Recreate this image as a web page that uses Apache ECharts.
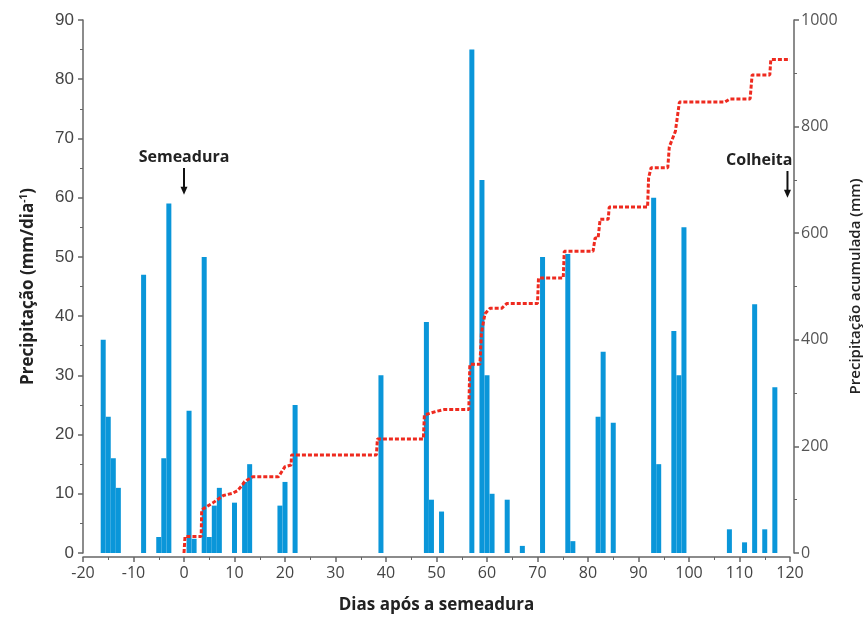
<!DOCTYPE html>
<html>
<head>
<meta charset="utf-8">
<script src="https://cdn.jsdelivr.net/npm/echarts@6/dist/echarts.min.js"></script>
<style>
html, body { margin: 0; padding: 0; background: #fff; }
#chart { width: 866px; height: 620px; }
</style>
</head>
<body>
<div id="chart"></div>
<script>
// daily rain (mm/dia)
var barDays = [-16, -15, -14, -13, -8, -5, -4, -3, 1, 2, 4, 5, 6, 7, 10, 12, 13, 19, 20, 22, 39, 48, 49, 51,
    57, 59, 60, 61, 64, 67, 71, 76, 77, 82, 83, 85, 93, 94, 97, 98, 99, 108, 111, 113, 115, 117];
var barValues = [36, 23, 16, 11, 47, 2.7, 16, 59, 24, 2.4, 50, 2.7, 8, 11, 8.5, 12, 15, 8, 12, 25, 30, 39, 9, 7,
    85, 63, 30, 10, 9, 1.2, 50, 50.5, 2, 23, 34, 22, 60, 15, 37.5, 30, 55, 4, 1.8, 42, 4, 28];

// accumulated rain (mm)
var cumDays = [0, 0.2, 3.4, 3.5, 5.7, 7.8, 9.6, 10.6, 11.6, 12, 13.6, 18.7, 20, 21.2, 21.3, 38.1, 38.3,
    47.4, 47.6, 50.1, 51.5, 56.4, 56.6, 58.6, 58.9, 59.6, 60.6, 62.9, 63.9, 70, 70.2, 75.1, 75.3,
    81, 81.4, 82, 82.4, 84, 84.2, 91.8, 92, 92.5, 95.8, 96.1, 97.3, 98.1, 107.1, 108.1, 112.1, 112.5,
    116, 116.2, 120];
var cumValues = [0, 31, 31, 81, 94, 108, 112, 117, 128, 134, 143, 143, 162, 165, 184, 184, 214,
    214, 259, 266, 269, 269, 354, 354, 413, 449, 459, 459, 468, 468, 516, 516, 566,
    566, 591, 591, 626, 626, 649, 649, 704, 723, 723, 762, 791, 846, 846, 852, 852, 897,
    897, 926, 926];

var xTicks = [-20, 120];
var leftTicks = [0, 90];
var rightTicks = [0, 1000];

var annoTexts = ['Semeadura', 'Colheita'];
var annoDays = [0, 119.5];
var annoTop = [65, 64.5];
var annoBottom = [60.5, 60];

var chart = echarts.init(document.getElementById('chart'));
var font = 'Liberation Sans, Arial, sans-serif';
var font2 = 'Open Sans, sans-serif';

var barData = barDays.map(function (d, i) { return [d, barValues[i]]; });
var cumData = cumDays.map(function (d, i) { return [d, cumValues[i]]; });

var option = {
    animation: false,
    backgroundColor: '#fff',
    grid: { left: 83, right: 76, top: 20, bottom: 67, outerBoundsMode: 'none' },
    xAxis: {
        type: 'value',
        min: xTicks[0],
        max: xTicks[1],
        interval: 10,
        offset: 4,
        name: 'Dias após a semeadura',
        nameLocation: 'middle',
        nameGap: 40,
        nameTextStyle: { fontFamily: font2, fontSize: 17, fontWeight: 'bold', color: '#222' },
        axisLine: { onZero: false, lineStyle: { color: '#666', width: 1.5 } },
        axisTick: { length: 5, lineStyle: { color: '#666', width: 1.5 } },
        minorTick: { show: true, splitNumber: 2, length: 3, lineStyle: { color: '#666', width: 1 } },
        axisLabel: { fontFamily: font2, fontSize: 16, color: '#444', margin: 8 },
        splitLine: { show: false }
    },
    yAxis: [{
        type: 'value',
        min: leftTicks[0],
        max: leftTicks[1],
        interval: 10,
        name: 'Precipitação (mm/dia{sup|-1})',
        nameLocation: 'middle',
        nameRotate: 90,
        nameGap: 46,
        nameTextStyle: {
            fontFamily: font2, fontSize: 17, fontWeight: 'bold', color: '#222',
            rich: { sup: { fontFamily: font2, fontSize: 10, fontWeight: 'bold', color: '#222', verticalAlign: 'top', padding: [0, 0, 8, 0] } }
        },
        axisLine: { show: true, onZero: false, lineStyle: { color: '#666', width: 1.5 } },
        axisTick: { length: 5, lineStyle: { color: '#666', width: 1.5 } },
        minorTick: { show: true, splitNumber: 2, length: 3, lineStyle: { color: '#666', width: 1 } },
        axisLabel: { fontFamily: font, fontSize: 17, color: '#444', margin: 9 },
        splitLine: { show: false }
    }, {
        type: 'value',
        min: rightTicks[0],
        max: rightTicks[1],
        interval: 200,
        position: 'right',
        offset: 4,
        name: 'Precipitação acumulada (mm)',
        nameLocation: 'middle',
        nameRotate: 90,
        nameGap: 48,
        nameTextStyle: { fontFamily: font2, fontSize: 15, fontWeight: 600, color: '#222' },
        axisLine: { show: true, onZero: false, lineStyle: { color: '#666', width: 1.5 } },
        axisTick: { length: 5, lineStyle: { color: '#666', width: 1.5 } },
        minorTick: { show: true, splitNumber: 2, length: 3, lineStyle: { color: '#666', width: 1 } },
        axisLabel: {
            fontFamily: font2, fontSize: 16, color: '#555', margin: 7,
            formatter: function (v) { return String(v); }
        },
        splitLine: { show: false }
    }],
    series: [{
        type: 'bar',
        yAxisIndex: 0,
        barWidth: 5,
        itemStyle: { color: '#0a96d9' },
        data: barData
    }, {
        type: 'line',
        yAxisIndex: 1,
        symbol: 'none',
        lineStyle: { color: '#ee2a1f', width: 3, type: [4, 2] },
        data: cumData,
        z: 3
    }]
};
chart.setOption(option);

// arrows and labels for sowing / harvest
var graphics = [];
annoTexts.forEach(function (t, i) {
    var top = chart.convertToPixel({ xAxisIndex: 0, yAxisIndex: 0 }, [annoDays[i], annoTop[i]]);
    var bot = chart.convertToPixel({ xAxisIndex: 0, yAxisIndex: 0 }, [annoDays[i], annoBottom[i]]);
    graphics.push({
        type: 'line',
        shape: { x1: top[0], y1: top[1], x2: bot[0], y2: bot[1] - 6 },
        style: { stroke: '#111', lineWidth: 2 }
    });
    graphics.push({
        type: 'polygon',
        shape: { points: [[bot[0] - 3.5, bot[1] - 8], [bot[0] + 3.5, bot[1] - 8], [bot[0], bot[1]]] },
        style: { fill: '#111' }
    });
    graphics.push({
        type: 'text',
        x: i === 0 ? top[0] : top[0] + 5,
        y: top[1] - 3,
        style: {
            text: t, fontFamily: font2, fontSize: 16, fontWeight: 'bold', fill: '#222',
            align: i === 0 ? 'center' : 'right', verticalAlign: 'bottom'
        }
    });
});
chart.setOption({ graphic: graphics });
</script>
</body>
</html>
